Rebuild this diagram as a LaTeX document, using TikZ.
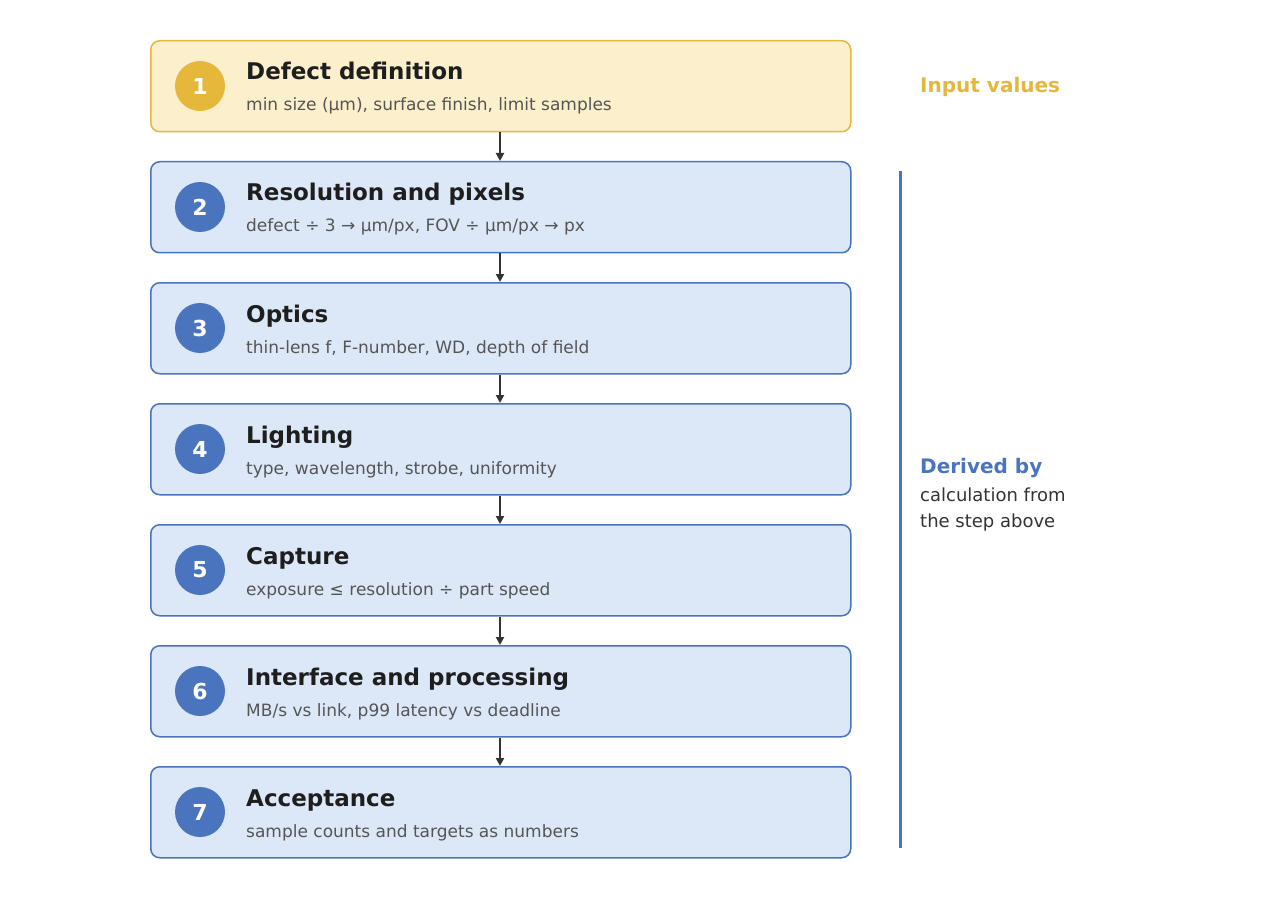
\documentclass[tikz,border=0pt]{standalone}
\usepackage{fontspec}
\setmainfont{DejaVu Sans}
\usetikzlibrary{arrows.meta}
\definecolor{ofill}{HTML}{FBEFCC}
\definecolor{ostroke}{HTML}{E5B73B}
\definecolor{bfill}{HTML}{DCE8F7}
\definecolor{bstroke}{HTML}{4A74BE}
\definecolor{ttl}{HTML}{1E1E1E}
\definecolor{sub}{HTML}{555555}
\definecolor{arr}{HTML}{333333}
\begin{document}
\begin{tikzpicture}[x=1pt,y=-1pt,
  box/.style={draw=bstroke,fill=bfill,line width=1.5pt,rounded corners=9pt,minimum width=700pt,minimum height=91pt,anchor=north west,inner sep=0pt},
  obox/.style={box,draw=ostroke,fill=ofill},
  num/.style={circle,fill=bstroke,minimum size=50pt,inner sep=0pt,text=white,font=\fontsize{22}{26}\selectfont\bfseries},
  onum/.style={num,fill=ostroke},
  ttl/.style={anchor=base west,inner sep=0pt,text=ttl,font=\fontsize{23}{27}\selectfont\bfseries},
  sub/.style={anchor=base west,inner sep=0pt,text=sub,font=\fontsize{17}{20}\selectfont},
  link/.style={-{Triangle[length=8pt,width=8pt]},draw=arr,line width=2pt}]
\useasboundingbox (0,0) rectangle (1280,920);
\foreach \i/\t/\s in {
 1/Defect definition/{min size (µm), surface finish, limit samples},
 2/Resolution and pixels/{defect ÷ 3 → µm/px, FOV ÷ µm/px → px},
 3/Optics/{thin-lens f, F-number, WD, depth of field},
 4/Lighting/{type, wavelength, strobe, uniformity},
 5/Capture/{exposure ≤ resolution ÷ part speed},
 6/Interface and processing/{MB/s vs link, p99 latency vs deadline},
 7/Acceptance/{sample counts and targets as numbers}}{
  \pgfmathsetmacro{\top}{40+121*(\i-1)}
  \ifnum\i=1
    \node[obox] (b\i) at (150,\top) {};
    \node[onum] (n\i) at (200,\top+46) {\i};
  \else
    \node[box] (b\i) at (150,\top) {};
    \node[num] (n\i) at (200,\top+46) {\i};
  \fi
  \node[ttl] (t\i) at (246,\top+40) {\t};
  \node[sub] (s\i) at (246,\top+71) {\s};
}
\foreach \i [evaluate=\i as \j using int(\i+1)] in {1,...,6}
  \draw[link] (b\i.south -| 500,0) -- (b\j.north -| 500,0);
\node[anchor=base west,inner sep=0pt,text=ostroke,font=\fontsize{20}{24}\selectfont\bfseries] (iv) at (920,93) {Input values};
\coordinate (lt) at (900,171);
\coordinate (lb) at (900,848);
\draw[bstroke,line width=3pt] (lt) -- (lb);
\node[anchor=base west,inner sep=0pt,text=bstroke,font=\fontsize{20}{24}\selectfont\bfseries] (db) at (920,473) {Derived by};
\node[anchor=base west,inner sep=0pt,text=arr,font=\fontsize{18}{22}\selectfont] (c1) at (920,501) {calculation from};
\node[anchor=base west,inner sep=0pt,text=arr,font=\fontsize{18}{22}\selectfont] (c2) at (920,527) {the step above};
\end{tikzpicture}
\end{document}
